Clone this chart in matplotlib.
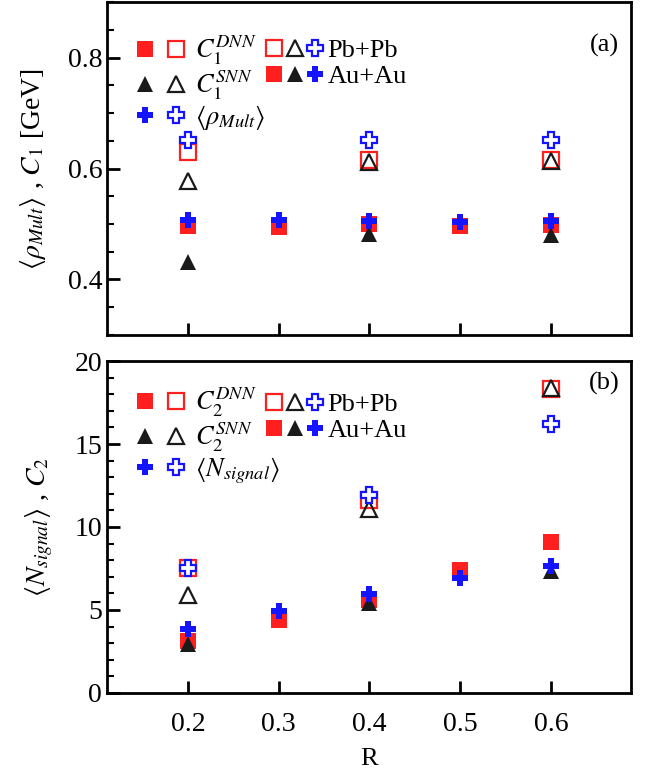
import matplotlib
matplotlib.use("Agg")
import matplotlib.pyplot as plt
from matplotlib.legend_handler import HandlerTuple
from matplotlib.ticker import MultipleLocator
from matplotlib.lines import Line2D

plt.rcParams['font.family'] = ['Liberation Serif', 'DejaVu Serif']
plt.rcParams['mathtext.fontset'] = 'stix'

RED = '#ff1f1f'
BLUE = '#1414ff'
BLACK = '#1a1a1a'

# panel (a): C1 / <rho_Mult>
r_pb = [0.2, 0.4, 0.6]
c1_dnn_pb = [0.630, 0.615, 0.615]
c1_snn_pb = [0.578, 0.612, 0.614]
rho_pb = [0.651, 0.651, 0.651]

r_au = [0.2, 0.3, 0.4, 0.5, 0.6]
r_au_snn = [0.2, 0.4, 0.6]
c1_dnn_au = [0.497, 0.494, 0.500, 0.497, 0.499]
c1_snn_au = [0.432, 0.482, 0.481]
rho_au = [0.508, 0.507, 0.506, 0.504, 0.505]

# panel (b): C2 / <N_signal>
c2_dnn_pb = [7.5, 11.6, 18.3]
c2_snn_pb = [5.9, 11.1, 18.4]
nsig_pb = [7.5, 11.9, 16.2]

c2_dnn_au = [3.1, 4.4, 5.6, 7.4, 9.1]
c2_snn_au = [2.95, 5.4, 7.35]
nsig_au = [3.85, 4.95, 5.95, 6.9, 7.65]

MS = 12
MEW = 1.6


def draw_panel(ax, dnn_pb, snn_pb, avg_pb, dnn_au, snn_au, avg_au, idx, avg_label, ly):
    ax.plot(r_au, dnn_au, 's', color=RED, ms=MS, mew=0, ls='none', zorder=3)
    ax.plot(r_au_snn, snn_au, '^', color=BLACK, ms=MS, mew=0, ls='none', zorder=4)
    ax.plot(r_au, avg_au, 'P', color=BLUE, ms=MS, mew=0, ls='none', zorder=5)
    ax.plot(r_pb, dnn_pb, 's', mfc='white', mec=RED, ms=MS - 1, mew=MEW, ls='none', zorder=3)
    ax.plot(r_pb, snn_pb, '^', mfc='none', mec=BLACK, ms=MS - 1, mew=MEW, ls='none', zorder=4)
    ax.plot(r_pb, avg_pb, 'P', mfc='white', mec=BLUE, ms=MS - 1, mew=MEW, ls='none', zorder=5)

    f_sq = Line2D([], [], marker='s', color=RED, ms=MS, mew=0, ls='none')
    o_sq = Line2D([], [], marker='s', mfc='white', mec=RED, ms=MS - 1, mew=MEW, ls='none')
    f_tr = Line2D([], [], marker='^', color=BLACK, ms=MS, mew=0, ls='none')
    o_tr = Line2D([], [], marker='^', mfc='white', mec=BLACK, ms=MS - 1, mew=MEW, ls='none')
    f_pl = Line2D([], [], marker='P', color=BLUE, ms=MS, mew=0, ls='none')
    o_pl = Line2D([], [], marker='P', mfc='white', mec=BLUE, ms=MS - 1, mew=MEW, ls='none')

    leg1 = ax.legend([(f_sq, o_sq), (f_tr, o_tr), (f_pl, o_pl)],
                     [f'$C_{idx}^{{DNN}}$', f'$C_{idx}^{{SNN}}$', avg_label],
                     handler_map={tuple: HandlerTuple(ndivide=None, pad=0)},
                     loc='upper left', frameon=False, fontsize=19,
                     handlelength=2.3, handletextpad=0.15, labelspacing=0.05,
                     borderpad=0, borderaxespad=0, bbox_to_anchor=(0.044, ly[0]))
    ax.add_artist(leg1)
    ax.legend([(o_sq, o_tr, o_pl), (f_sq, f_tr, f_pl)], ['Pb+Pb', 'Au+Au'],
              handler_map={tuple: HandlerTuple(ndivide=None, pad=0)},
              loc='upper left', frameon=False, fontsize=19,
              handlelength=2.3, handletextpad=0.1, labelspacing=0.1,
              borderpad=0, borderaxespad=0, bbox_to_anchor=(0.30, ly[1]))

    ax.set_xlim(0.111, 0.688)
    ax.xaxis.set_major_locator(MultipleLocator(0.1))
    ax.tick_params(axis='both', which='major', direction='in', length=9, width=2,
                   labelsize=20, right=False, top=False)
    ax.tick_params(axis='both', which='minor', direction='in', length=5, width=1.5,
                   right=False, top=False)
    ax.tick_params(axis='x', which='minor', bottom=False)
    for s in ax.spines.values():
        s.set_linewidth(2)


fig = plt.figure(figsize=(6.57, 7.75), dpi=100)
ax1 = fig.add_axes([0.163, 0.568, 0.797, 0.429])
ax2 = fig.add_axes([0.163, 0.106, 0.797, 0.428])

draw_panel(ax1, c1_dnn_pb, c1_snn_pb, rho_pb, c1_dnn_au, c1_snn_au, rho_au, 1,
           r'$\langle\rho_{Mult}\rangle$', (0.905, 0.89))
ax1.set_ylim(0.3, 0.9)
ax1.yaxis.set_major_locator(MultipleLocator(0.2))
ax1.yaxis.set_minor_locator(MultipleLocator(0.05))
ax1.tick_params(axis='x', labelbottom=False)
ax1.set_ylabel(r'$\langle\rho_{Mult}\rangle$ , $C_1$ [GeV]', fontsize=20, labelpad=14)
ax1.text(0.95, 0.87, '(a)', transform=ax1.transAxes, fontsize=19, ha='center', va='center')

draw_panel(ax2, c2_dnn_pb, c2_snn_pb, nsig_pb, c2_dnn_au, c2_snn_au, nsig_au, 2,
           r'$\langle N_{signal}\rangle$', (0.925, 0.905))
ax2.set_ylim(0, 20)
ax2.yaxis.set_major_locator(MultipleLocator(5))
ax2.yaxis.set_minor_locator(MultipleLocator(1))
ax2.set_xticks([0.2, 0.3, 0.4, 0.5, 0.6])
ax2.set_xticklabels(['0.2', '0.3', '0.4', '0.5', '0.6'])
ax2.tick_params(axis='x', pad=14)
ax2.set_xlabel('R', fontsize=19, labelpad=8)
ax2.set_ylabel(r'$\langle N_{signal}\rangle$ , $C_2$', fontsize=20, labelpad=14)
ax2.text(0.95, 0.934, '(b)', transform=ax2.transAxes, fontsize=19, ha='center', va='center')

fig.savefig('out.png', dpi=100)
